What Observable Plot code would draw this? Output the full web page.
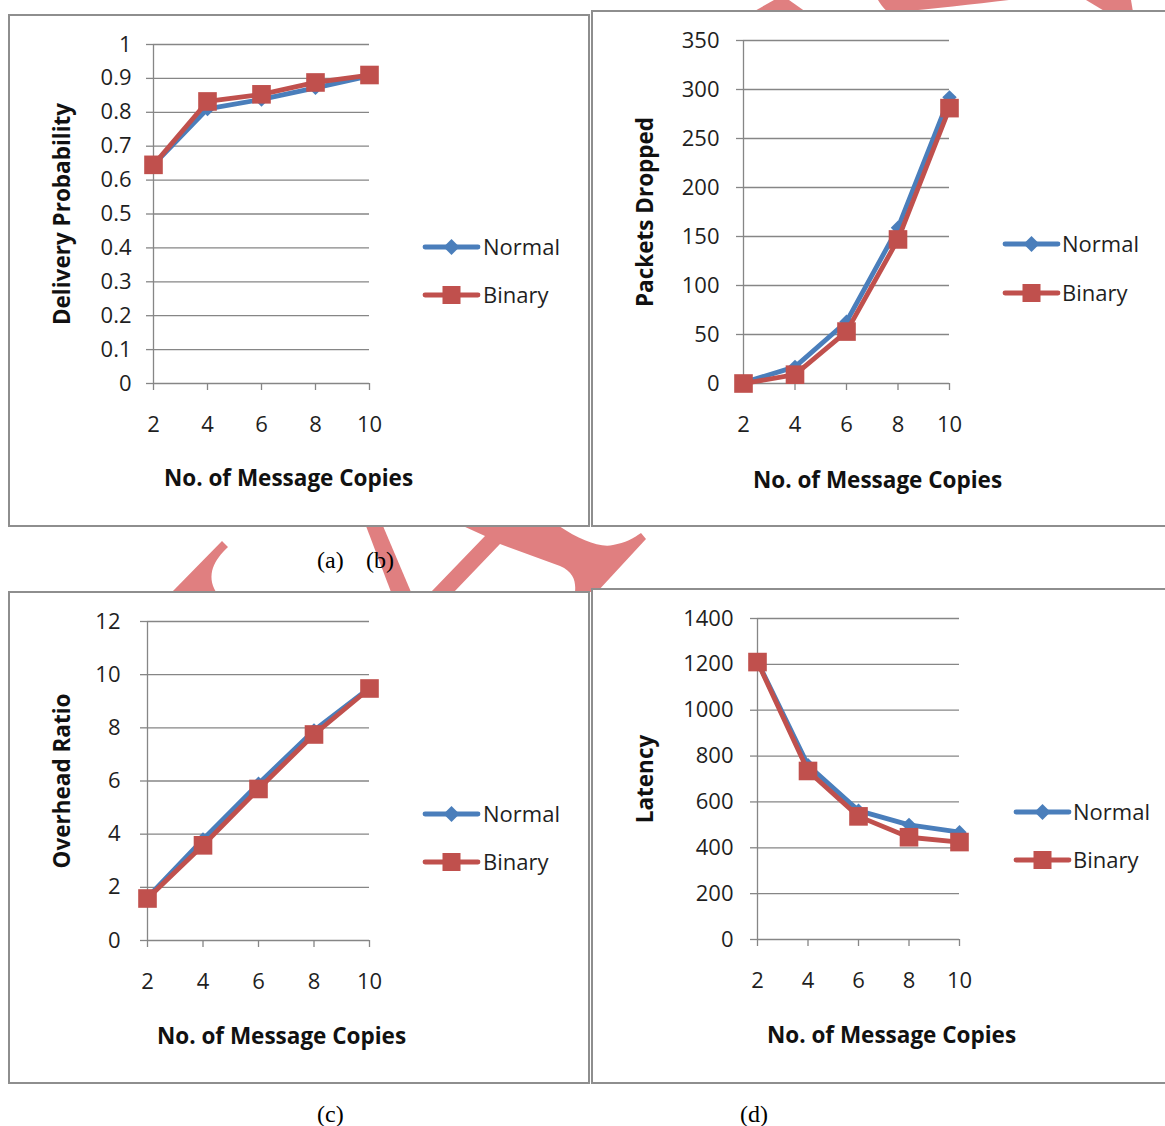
<!DOCTYPE html>
<html>
<head>
<meta charset="utf-8">
<script src="https://cdn.jsdelivr.net/npm/d3@7"></script>
<script src="https://cdn.jsdelivr.net/npm/@observablehq/plot@0.6"></script>
<style>
  html, body { margin: 0; padding: 0; background: #fff; }
  body { width: 1165px; height: 1126px; position: relative; overflow: hidden; }
  #wm { position: absolute; left: 0; top: 0; z-index: 0; }
  .panel { position: absolute; background: #fff; border: 2px solid #8e8e8e; box-sizing: border-box; overflow: hidden; z-index: 1; }
  .panel svg { position: absolute; left: 0; top: 0; overflow: visible; }
  #legend { position: absolute; left: 0; top: 0; z-index: 2; pointer-events: none; }
  .cap { position: absolute; font-family: "Liberation Serif", "Times New Roman", serif; font-size: 24px; color: #000; line-height: 1; z-index: 2; }
</style>
</head>
<body>
<svg id="wm" width="1165" height="1126">
  <g fill="#e07f80">
    <polygon points="774,0 789,0 806,12 753,12"/>
    <path d="M878,0 L1009,0 C975,4 930,9 897,12 L888,12 C882,7 880,3 878,0 Z"/>
    <polygon points="1086,0 1131,0 1133,12 1106,12"/>
    <path d="M222,541 L228,547 C214,560 206,575 216,592 L172,592 Z"/>
    <polygon points="366,526 383,526 411,592 391,592"/>
    <path d="M463,526 L559,526 C580,540 600,548 613,545 C625,543 634,538 641,533 L646,539 L597,592 L575,592 C576,582 574,572 560,566 L500,544 L454,592 L431,592 L485,536 Z"/>
    <polygon points="590,580 600,580 594,588"/>
  </g>
</svg>
<div id="root"></div>
<svg id="legend" width="1165" height="1126"></svg>
<div class="cap" style="left:317px;top:548px;">(a)</div>
<div class="cap" style="left:366px;top:548px;">(b)</div>
<div class="cap" style="left:317px;top:1102px;">(c)</div>
<div class="cap" style="left:740px;top:1102px;">(d)</div>
<script>
// ---------- data ----------
const copies = [2, 4, 6, 8, 10];
const seriesNames = ["Normal", "Binary"];
const xTitle = "No. of Message Copies";

const deliveryNormal = [0.645, 0.81, 0.838, 0.872, 0.907];
const deliveryBinary = [0.645, 0.832, 0.853, 0.888, 0.91];
const deliveryTicks = [0, 0.1, 0.2, 0.3, 0.4, 0.5, 0.6, 0.7, 0.8, 0.9, 1];
const deliveryTickLabels = ["0", "0.1", "0.2", "0.3", "0.4", "0.5", "0.6", "0.7", "0.8", "0.9", "1"];

const droppedNormal = [1, 17, 63, 159, 292];
const droppedBinary = [0, 9, 53, 147, 281];
const droppedTicks = [0, 50, 100, 150, 200, 250, 300, 350];

const overheadNormal = [1.62, 3.8, 5.9, 7.9, 9.5];
const overheadBinary = [1.58, 3.58, 5.7, 7.75, 9.48];
const overheadTicks = [0, 2, 4, 6, 8, 10, 12];

const latencyNormal = [1212, 760, 562, 500, 468];
const latencyBinary = [1210, 735, 537, 446, 425];
const latencyTicks = [0, 200, 400, 600, 800, 1000, 1200, 1400];

// ---------- style ----------
const BLUE = "#4a7ebb";
const RED = "#c0504d";
const GRID = "#868686";
const FONT = "'Open Sans', Lato, sans-serif";
const FS = 22;
const TFS = 22.5;

const panels = [
  { box: {l: 8, t: 14, w: 582, h: 513}, x0: 153, x1: 369, yTop: 44, yBot: 383,
    normal: deliveryNormal, binary: deliveryBinary, ticks: deliveryTicks, labels: deliveryTickLabels,
    yTitle: "Delivery Probability", yTitleX: 62, xTitleY: 478, xTitleX: 288, pad: 15,
    leg: {lx0: 425, lx1: 478, tx: 483, y1: 247, y2: 295} },
  { box: {l: 591, t: 10, w: 580, h: 517}, x0: 743, x1: 949, yTop: 40, yBot: 383,
    normal: droppedNormal, binary: droppedBinary, ticks: droppedTicks, labels: null,
    yTitle: "Packets Dropped", yTitleX: 645, xTitleY: 480, xTitleX: 877, pad: 17,
    leg: {lx0: 1005, lx1: 1058, tx: 1062, y1: 244, y2: 293} },
  { box: {l: 8, t: 591, w: 582, h: 493}, x0: 147, x1: 369, yTop: 621, yBot: 940,
    normal: overheadNormal, binary: overheadBinary, ticks: overheadTicks, labels: null,
    yTitle: "Overhead Ratio", yTitleX: 62, xTitleY: 1036, xTitleX: 281, pad: 20,
    leg: {lx0: 425, lx1: 478, tx: 483, y1: 814, y2: 862} },
  { box: {l: 591, t: 588, w: 580, h: 496}, x0: 757, x1: 959, yTop: 618, yBot: 939,
    normal: latencyNormal, binary: latencyBinary, ticks: latencyTicks, labels: null,
    yTitle: "Latency", yTitleX: 645, xTitleY: 1035, xTitleX: 891, pad: 17,
    leg: {lx0: 1016, lx1: 1069, tx: 1073, y1: 812, y2: 860} }
];

const root = document.getElementById("root");
const legend = d3.select("#legend");

for (const p of panels) {
  const ox = p.box.l + 2, oy = p.box.t + 2;
  const W = p.box.w - 4, H = p.box.h - 4;
  const marginLeft = p.x0 - ox;
  const marginRight = W - (p.x1 - ox);
  const marginTop = p.yTop - oy;
  const marginBottom = H - (p.yBot - oy);
  const yMax = p.ticks[p.ticks.length - 1];
  const rowsN = copies.map((c, i) => ({copies: c, value: p.normal[i], series: seriesNames[0]}));
  const rowsB = copies.map((c, i) => ({copies: c, value: p.binary[i], series: seriesNames[1]}));
  const fmt = p.labels ? (d => p.labels[p.ticks.indexOf(d)]) : (d => String(d));

  const chart = Plot.plot({
    width: W, height: H,
    marginLeft, marginRight, marginTop, marginBottom,
    style: {fontFamily: FONT, fontSize: FS + "px", color: "#1f1f1f", background: "transparent", overflow: "visible"},
    x: {type: "linear", domain: [2, 10]},
    y: {domain: [0, yMax]},
    marks: [
      Plot.gridY(p.ticks, {stroke: GRID, strokeOpacity: 1, strokeWidth: 1.3}),
      Plot.axisY(p.ticks, {tickSize: 7, tickPadding: p.pad, stroke: GRID, strokeWidth: 1.3, tickFormat: fmt, label: null, fontSize: FS}),
      Plot.ruleX([2], {stroke: GRID, strokeWidth: 1.3}),
      Plot.axisX(copies, {tickSize: 7, tickPadding: 26, stroke: GRID, strokeWidth: 1.3, tickFormat: d => String(d), label: null, fontSize: FS}),
      Plot.line(rowsN, {x: "copies", y: "value", stroke: BLUE, strokeWidth: 4.8}),
      Plot.dot(rowsN, {x: "copies", y: "value", symbol: "diamond2", r: 6.5, fill: BLUE, stroke: "none"}),
      Plot.line(rowsB, {x: "copies", y: "value", stroke: RED, strokeWidth: 4.8}),
      Plot.dot(rowsB, {x: "copies", y: "value", symbol: "square", r: 10.5, fill: RED, stroke: "none"}),
      Plot.text([xTitle], {frameAnchor: "bottom", dy: p.xTitleY - p.yBot, dx: p.xTitleX - (p.x0 + p.x1) / 2,
        textAnchor: "middle", lineAnchor: "middle", fontWeight: "bold", fontSize: TFS, fill: "#111"}),
      Plot.text([p.yTitle], {frameAnchor: "left", dx: -(p.x0 - p.yTitleX), dy: 0, rotate: -90,
        textAnchor: "middle", lineAnchor: "middle", fontWeight: "bold", fontSize: TFS, fill: "#111"})
    ]
  });

  const div = document.createElement("div");
  div.className = "panel";
  div.style.left = p.box.l + "px";
  div.style.top = p.box.t + "px";
  div.style.width = p.box.w + "px";
  div.style.height = p.box.h + "px";
  div.appendChild(chart);
  root.appendChild(div);

  // legend
  const L = p.leg;
  const g = legend.append("g").attr("font-family", FONT).attr("font-size", FS).attr("fill", "#1f1f1f");
  g.append("line").attr("x1", L.lx0).attr("x2", L.lx1).attr("y1", L.y1).attr("y2", L.y1)
    .attr("stroke", BLUE).attr("stroke-width", 4.8).attr("stroke-linecap", "round");
  const mx = (L.lx0 + L.lx1) / 2;
  g.append("path").attr("d", `M${mx},${L.y1 - 8} L${mx + 8},${L.y1} L${mx},${L.y1 + 8} L${mx - 8},${L.y1} Z`).attr("fill", BLUE);
  g.append("text").attr("x", L.tx).attr("y", L.y1).attr("dy", "0.35em").text(seriesNames[0]);
  g.append("line").attr("x1", L.lx0).attr("x2", L.lx1).attr("y1", L.y2).attr("y2", L.y2)
    .attr("stroke", RED).attr("stroke-width", 4.8).attr("stroke-linecap", "round");
  g.append("rect").attr("x", mx - 9).attr("y", L.y2 - 9).attr("width", 18).attr("height", 18).attr("fill", RED);
  g.append("text").attr("x", L.tx).attr("y", L.y2).attr("dy", "0.35em").text(seriesNames[1]);
}
</script>
</body>
</html>
